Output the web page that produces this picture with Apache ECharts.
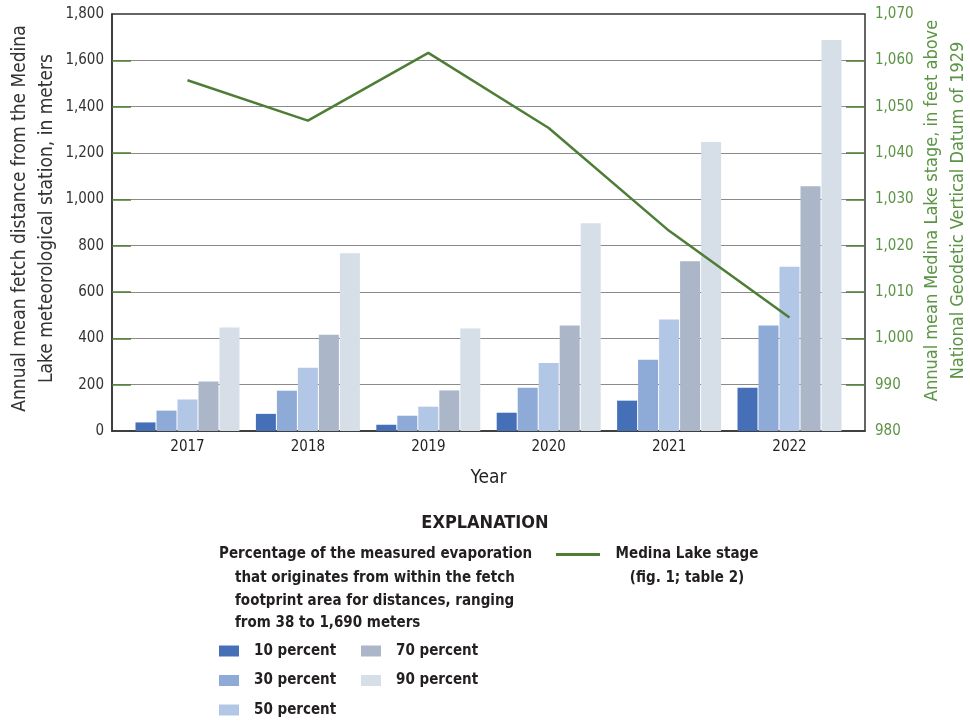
<!DOCTYPE html>
<html>
<head>
<meta charset="utf-8">
<script src="https://cdn.jsdelivr.net/npm/echarts@6/dist/echarts.min.js"></script>
<style>
html,body{margin:0;padding:0;background:#fff;}
#chart{width:970px;height:723px;}
</style>
</head>
<body>
<div id="chart"></div>
<script>
// ---- data ----
const years = [2017, 2018, 2019, 2020, 2021, 2022];
const seriesNames = ['10 percent', '30 percent', '50 percent', '70 percent', '90 percent'];
const fetch10 = [37, 74, 27, 79, 131, 187];
const fetch30 = [88, 174, 66, 187, 308, 455];
const fetch50 = [136, 273, 105, 294, 481, 709];
const fetch70 = [214, 416, 175, 455, 733, 1056];
const fetch90 = [447, 767, 442, 897, 1247, 1688];
const lakeStage = [1055.7, 1047.0, 1061.6, 1045.4, 1023.2, 1004.5];
const leftTicks = [0, 200, 400, 600, 800, 1000, 1200, 1400, 1600, 1800];
const rightTicks = [980, 990, 1000, 1010, 1020, 1030, 1040, 1050, 1060, 1070];
const lineName = 'Medina Lake stage';

const FONT = "'Liberation Sans Narrow', 'DejaVu Sans Condensed', 'Liberation Sans', sans-serif";
const barColors = ['#4570b8', '#8eaad6', '#b2c6e6', '#abb6c9', '#d6dee8'];
const green = '#4e7d36';
const greenText = '#5b9444';
const dark = '#231f20';
const fetchData = [fetch10, fetch30, fetch50, fetch70, fetch90];

const fmt = v => v.toLocaleString('en-US');

const chart = echarts.init(document.getElementById('chart'), null, {renderer: 'canvas'});

const barSeries = seriesNames.map((name, i) => ({
  name: name,
  type: 'bar',
  xAxisIndex: 0,
  yAxisIndex: 0,
  barWidth: 20,
  barGap: '5%',
  itemStyle: {color: barColors[i]},
  data: years.map((y, j) => [y, fetchData[i][j]]),
  z: 2
}));

const legendText = {fontFamily: FONT, fontWeight: 'bold', fontSize: 15, color: dark, lineHeight: 16, padding: [0, 0, 0, 10]};

const option = {
  animation: false,
  backgroundColor: '#fff',
  textStyle: {fontFamily: FONT},
  grid: {left: 112, right: 105, top: 14, bottom: 292, show: true, borderColor: '#333', borderWidth: 1.5, containLabel: false, outerBoundsMode: 'none'},
  xAxis: {
    type: 'value',
    min: 2016.373,
    max: 2022.627,
    name: 'Year',
    nameLocation: 'middle',
    nameGap: 38,
    nameMoveOverlap: false,
    nameTextStyle: {fontFamily: FONT, fontSize: 19, color: dark},
    axisLine: {show: true, lineStyle: {color: '#333', width: 1.5}},
    axisTick: {show: false},
    splitLine: {show: false},
    axisLabel: {
      customValues: years,
      formatter: v => String(v),
      fontFamily: FONT, fontSize: 15, color: dark, margin: 9
    }
  },
  yAxis: [
    {
      type: 'value',
      position: 'left',
      min: 0, max: 1800, interval: 200,
      name: 'Annual mean fetch distance from the Medina\nLake meteorological station, in meters',
      nameLocation: 'middle',
      nameRotate: 90,
      nameGap: 51,
      nameMoveOverlap: false,
      nameTextStyle: {fontFamily: FONT, fontSize: 19, color: '#333', lineHeight: 27, align: 'center', padding: [0, 0, 0, 8]},
      axisLine: {show: true, lineStyle: {color: '#333', width: 1.5}},
      axisTick: {show: true, inside: true, length: 19, lineStyle: {color: green, width: 1.5}, customValues: leftTicks.slice(1, -1)},
      splitLine: {show: true, lineStyle: {color: '#8a8a8a', width: 1.2}},
      axisLabel: {fontFamily: FONT, fontSize: 15, color: '#333', margin: 8, formatter: v => fmt(v), customValues: leftTicks}
    },
    {
      type: 'value',
      position: 'right',
      min: 980, max: 1070, interval: 10,
      name: 'Annual mean Medina Lake stage, in feet above\nNational Geodetic Vertical Datum of 1929',
      nameLocation: 'middle',
      nameRotate: 90,
      nameGap: 54,
      nameMoveOverlap: false,
      nameTextStyle: {fontFamily: FONT, fontSize: 18, color: greenText, lineHeight: 26, align: 'center', padding: [0, 0, 0, 24]},
      axisLine: {show: false},
      axisTick: {show: true, inside: true, length: 19, lineStyle: {color: green, width: 1.5}, customValues: rightTicks.slice(1, -1)},
      splitLine: {show: false},
      axisLabel: {fontFamily: FONT, fontSize: 15, color: greenText, margin: 10, formatter: v => fmt(v), customValues: rightTicks}
    }
  ],
  legend: [
    {
      orient: 'vertical', left: 219, top: 643, height: 80, padding: 0, itemWidth: 20, itemHeight: 11, itemGap: 13.5,
      icon: 'rect', data: seriesNames.slice(0, 3), textStyle: legendText, selectedMode: false
    },
    {
      orient: 'vertical', left: 361, top: 643, height: 80, padding: 0, itemWidth: 20, itemHeight: 11, itemGap: 13.5,
      icon: 'rect', data: seriesNames.slice(3), textStyle: legendText, selectedMode: false
    },
    {
      orient: 'vertical', left: 556, top: 523, padding: 0, itemWidth: 44, itemHeight: 3,
      icon: 'rect', data: [lineName], selectedMode: false,
      formatter: () => '{a| }\n{a|Medina Lake stage}\n{a|(fig. 1; table 2)}',
      textStyle: {
        fontFamily: FONT, fontWeight: 'bold', fontSize: 15, color: dark,
        rich: {a: {fontFamily: FONT, fontWeight: 'bold', fontSize: 15, color: dark, width: 164, align: 'center', lineHeight: 24}}
      }
    }
  ],
  graphic: [
    {type: 'text', left: 'center', top: 514, style: {text: 'EXPLANATION', fontFamily: FONT, fontWeight: 'bold', fontSize: 18, fill: dark}},
    {type: 'text', left: 219, top: 547, style: {text: 'Percentage of the measured evaporation', fontFamily: FONT, fontWeight: 'bold', fontSize: 15, fill: dark}},
    {type: 'text', left: 235, top: 567, style: {text: 'that originates from within the fetch\nfootprint area for distances, ranging\nfrom 38 to 1,690 meters', fontFamily: FONT, fontWeight: 'bold', fontSize: 15, lineHeight: 22.5, fill: dark}}
  ],
  series: barSeries.concat([{
    name: lineName,
    type: 'line',
    xAxisIndex: 0,
    yAxisIndex: 1,
    data: years.map((y, j) => [y, lakeStage[j]]),
    symbol: 'none',
    lineStyle: {color: green, width: 2.5},
    itemStyle: {color: green},
    z: 5
  }])
};

chart.setOption(option);
</script>
</body>
</html>
